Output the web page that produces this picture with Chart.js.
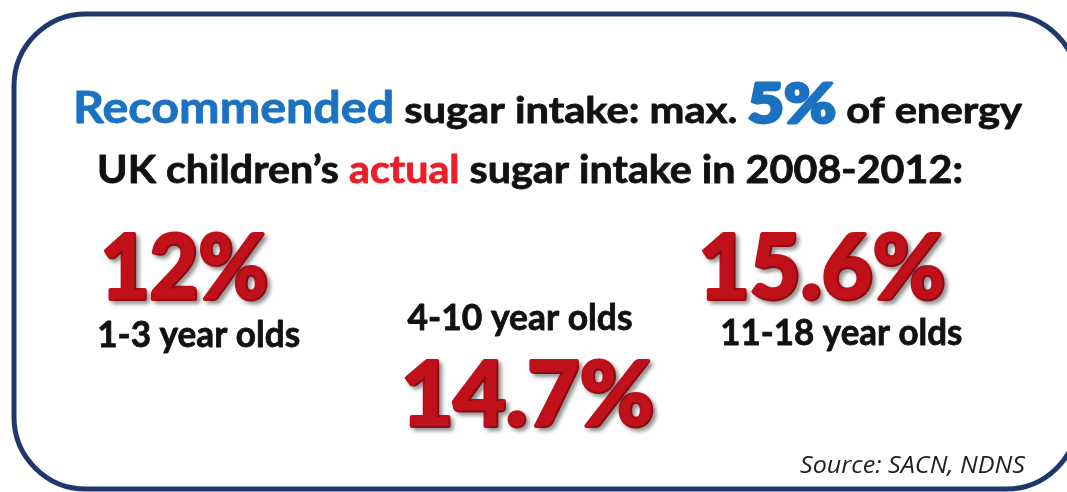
<!DOCTYPE html>
<html>
<head>
<meta charset="utf-8">
<script src="https://cdn.jsdelivr.net/npm/chart.js@4.4.1/dist/chart.umd.min.js"></script>
<style>
  html, body { margin: 0; background: #fff; }
  #wrap { width: 1067px; height: 492px; position: relative; }
</style>
</head>
<body>
<div id="wrap"><canvas id="chart"></canvas></div>
<script>
// data
const ageGroups = ['1-3 year olds', '4-10 year olds', '11-18 year olds'];
const sugarIntake = [12, 14.7, 15.6];   // % of energy, UK children 2008-2012
const recommendedMax = 5;               // % of energy
const sourceText = 'Source: SACN, NDNS';

const BLUE = '#1c72c0';
const RED = '#c0101a';
const BRIGHT_RED = '#ee1c25';
const NAVY = '#1f386b';

// layout for the big numbers and the group labels (pixels)
const numBase = [300, 427, 300];
const numDx = [-14, 8, -19];
const numW = [168, 253, 247];
const lblBase = [347, 330, 345];
const lblW = [203, 225, 242];

// draw text stretched to a given width, starting at x; optional stroke to thicken
function fitText(ctx, text, x, y, width, bold) {
  const w = ctx.measureText(text).width;
  ctx.save();
  ctx.translate(x, y);
  ctx.scale(width / w, 1);
  if (bold) {
    ctx.lineJoin = 'round';
    ctx.lineWidth = bold;
    ctx.strokeStyle = ctx.fillStyle;
    ctx.strokeText(text, 0, 0);
  }
  ctx.fillText(text, 0, 0);
  ctx.restore();
}

// a line made of differently styled pieces, fitted between x0 and x1
function richLine(ctx, parts, x0, x1, y) {
  let total = 0;
  parts.forEach(p => { ctx.font = p.font; p.w = ctx.measureText(p.text).width; total += p.w; });
  const s = (x1 - x0) / total;
  let x = x0;
  parts.forEach(p => {
    ctx.font = p.font;
    ctx.fillStyle = p.color;
    ctx.save();
    ctx.translate(x, y);
    ctx.scale(s, 1);
    ctx.lineJoin = 'round';
    ctx.lineWidth = p.stroke || 0.8;
    ctx.strokeStyle = p.color;
    ctx.strokeText(p.text, 0, 0);
    ctx.fillText(p.text, 0, 0);
    ctx.restore();
    x += p.w * s;
  });
}

const infographic = {
  id: 'infographic',
  beforeDraw(chart) {
    const ctx = chart.ctx;
    ctx.save();
    ctx.fillStyle = '#fff';
    ctx.fillRect(0, 0, chart.width, chart.height);
    ctx.strokeStyle = NAVY;
    ctx.lineWidth = 5;
    ctx.beginPath();
    ctx.roundRect(14, 14, 1064, 475, 72);
    ctx.stroke();
    ctx.restore();
  },
  afterDatasetsDraw(chart) {
    const ctx = chart.ctx;
    const meta = chart.getDatasetMeta(0);
    ctx.save();
    ctx.textBaseline = 'alphabetic';
    ctx.textAlign = 'left';

    richLine(ctx, [
      { text: 'Recommended', font: 'bold 43px Lato', color: BLUE },
      { text: ' sugar intake: max. ', font: 'bold 37px Lato', color: '#111' },
      { text: recommendedMax + '%', font: '900 56px Lato', color: BLUE, stroke: 3 },
      { text: ' of energy', font: 'bold 37px Lato', color: '#111' },
    ], 73, 1022, 123);

    richLine(ctx, [
      { text: 'UK children\u2019s ', font: 'bold 39px Lato', color: '#111' },
      { text: 'actual', font: 'bold 39px Lato', color: BRIGHT_RED },
      { text: ' sugar intake in 2008-2012:', font: 'bold 39px Lato', color: '#111' },
    ], 97, 963, 183);

    meta.data.forEach((pt, i) => {
      // big percentage
      ctx.font = '900 89px Lato';
      ctx.fillStyle = RED;
      ctx.shadowColor = 'rgba(0,0,0,0.35)';
      ctx.shadowOffsetX = 3;
      ctx.shadowOffsetY = 3;
      ctx.shadowBlur = 4;
      const cx = pt.x + numDx[i];
      fitText(ctx, sugarIntake[i] + '%', cx - numW[i] / 2, numBase[i] - 1, numW[i], 4);
      ctx.shadowColor = 'transparent';

      // group label
      ctx.font = 'bold 37px Lato';
      ctx.fillStyle = '#111';
      fitText(ctx, chart.data.labels[i], pt.x - lblW[i] / 2, lblBase[i], lblW[i], 0.8);
    });

    ctx.font = 'italic 23px "Open Sans"';
    ctx.fillStyle = '#222';
    fitText(ctx, sourceText, 800, 473, 225);
    ctx.restore();
  }
};

new Chart(document.getElementById('chart'), {
  type: 'line',
  data: {
    labels: ageGroups,
    datasets: [{
      label: 'Sugar intake (% of energy)',
      data: sugarIntake,
      showLine: false,
      pointRadius: 0,
      pointHoverRadius: 0,
    }],
  },
  options: {
    responsive: true,
    maintainAspectRatio: false,
    animation: false,
    events: [],
    layout: { padding: { left: 38, right: 65, top: 0, bottom: 0 } },
    scales: {
      x: { display: false, offset: true },
      y: { display: false, min: 0, max: 20 },
    },
    plugins: {
      legend: { display: false },
      tooltip: { enabled: false },
    },
  },
  plugins: [infographic],
});
</script>
</body>
</html>
